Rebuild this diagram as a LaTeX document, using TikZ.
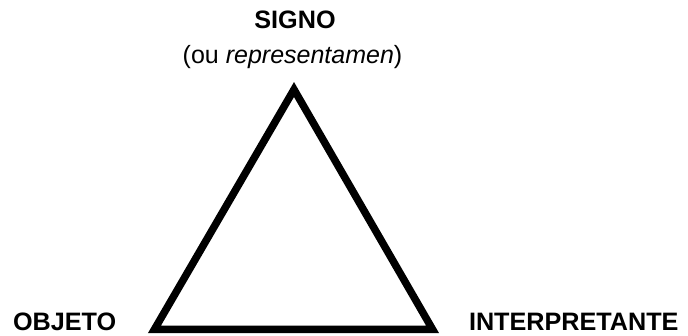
\documentclass[tikz,border=0pt]{standalone}
\usepackage{fontspec}
\setmainfont{Liberation Sans}
\begin{document}
\begin{tikzpicture}[x=1pt,y=-1pt,
  lbl/.style={inner sep=0pt,outer sep=0pt,font=\fontsize{25.2}{28}\selectfont\bfseries,text=black},
  sub/.style={inner sep=0pt,outer sep=0pt,font=\fontsize{25}{28}\selectfont,text=black},
  edge/.style={line width=7.5pt,line join=miter,draw=black}]
\useasboundingbox (0,0) rectangle (688,335);
\coordinate (s) at (294,89.5);
\coordinate (o) at (154.5,329.25);
\coordinate (i) at (432.5,329.25);
\draw[edge] (s) -- (o) -- (i) -- cycle;
\node[lbl,anchor=base] (signo) at (295,28) {SIGNO};
\node[sub,anchor=base] (repr) at (292.5,63) {(ou \textit{representamen})};
\node[lbl,anchor=base west] (objeto) at (13,330) {OBJETO};
\node[lbl,anchor=base west] (interp) at (469,330) {INTERPRETANTE};
\end{tikzpicture}
\end{document}
